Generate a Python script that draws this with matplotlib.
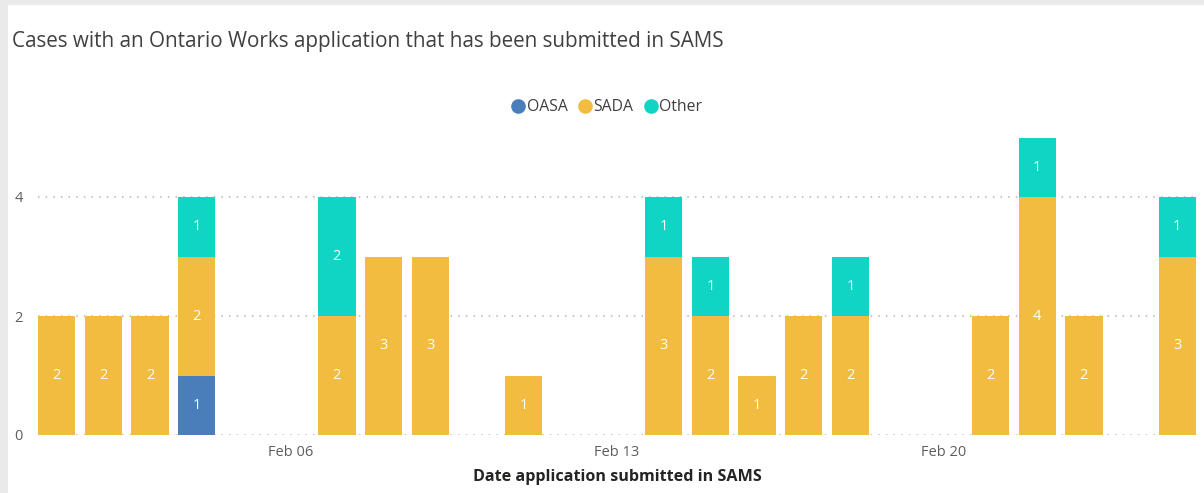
import matplotlib.pyplot as plt
import numpy as np
import pandas as pd
from matplotlib.lines import Line2D
from matplotlib.patches import Rectangle

plt.rcParams["font.family"] = ["Open Sans", "DejaVu Sans"]

# data
dates = ["2022-02-01", "2022-02-02", "2022-02-03", "2022-02-04", "2022-02-07",
         "2022-02-08", "2022-02-09", "2022-02-11", "2022-02-14", "2022-02-15",
         "2022-02-16", "2022-02-17", "2022-02-18", "2022-02-21", "2022-02-22",
         "2022-02-23", "2022-02-25"]
oasa = [0, 0, 0, 1, 0, 0, 0, 0, 0, 0, 0, 0, 0, 0, 0, 0, 0]
sada = [2, 2, 2, 2, 2, 3, 3, 1, 3, 2, 1, 2, 2, 2, 4, 2, 3]
other = [0, 0, 0, 1, 2, 0, 0, 0, 1, 1, 0, 0, 1, 0, 1, 0, 1]
xtick_dates = ["2022-02-06", "2022-02-13", "2022-02-20"]
xtick_labels = ["Feb 06", "Feb 13", "Feb 20"]

series = [("OASA", oasa, "#4A7EBB"), ("SADA", sada, "#F2BC41"), ("Other", other, "#10D4C4")]

x = pd.to_datetime(dates)

fig = plt.figure(figsize=(12.04, 4.93), dpi=100, facecolor="#EAEAEA")
# white card over the grey page
fig.patches.append(Rectangle((8 / 1204, 0), 1, 1 - 5 / 493, transform=fig.transFigure,
                             facecolor="white", edgecolor="none", zorder=-5))

ax = fig.add_axes([38 / 1204, 1 - 435 / 493, (1196 - 38) / 1204, 297.5 / 493])
ax.set_facecolor("none")

bottom = np.zeros(len(dates))
for name, vals, color in series:
    vals = np.array(vals, dtype=float)
    bars = ax.bar(x, vals, width=0.8, bottom=bottom, color=color, label=name, zorder=2)
    labels = [str(int(v)) if v > 0 else "" for v in vals]
    ax.bar_label(bars, labels=labels, label_type="center", color="white", fontsize=10.5)
    bottom += vals

ax.set_xlim(x[0] - pd.Timedelta(hours=9.6), x[-1] + pd.Timedelta(hours=9.6))
ax.set_ylim(0, 5)
ax.set_yticks([0, 2, 4])
ax.set_xticks(pd.to_datetime(xtick_dates))
ax.set_xticklabels(xtick_labels)
ax.tick_params(length=0, labelsize=10.5, colors="#605E5C")
ax.tick_params(axis="y", pad=11)
ax.tick_params(axis="x", pad=7)
for s in ax.spines.values():
    s.set_visible(False)
ax.grid(axis="y", color="#B4B4B4", linestyle=(0, (1, 4)), linewidth=1.1, zorder=1)

ax.set_xlabel("Date application submitted in SAMS", fontsize=11.6, fontweight="bold",
              color="#252423", labelpad=7)

fig.text(12 / 1204, 1 - 42 / 493, "Cases with an Ontario Works application that has been submitted in SAMS",
         fontsize=14.9, color="#404040", va="center", ha="left")

handles = [Line2D([], [], marker="o", linestyle="none", markersize=9.5, color=c) for _, _, c in series]
ax.legend(handles, [n for n, _, _ in series], loc="center", bbox_to_anchor=(607 / 1204, 1 - 107 / 493),
          bbox_transform=fig.transFigure, ncol=3, frameon=False, handlelength=0.8,
          handletextpad=0.15, columnspacing=0.7, fontsize=11.3, labelcolor="#404040")

fig.savefig("out.png", dpi=100, facecolor=fig.get_facecolor())
